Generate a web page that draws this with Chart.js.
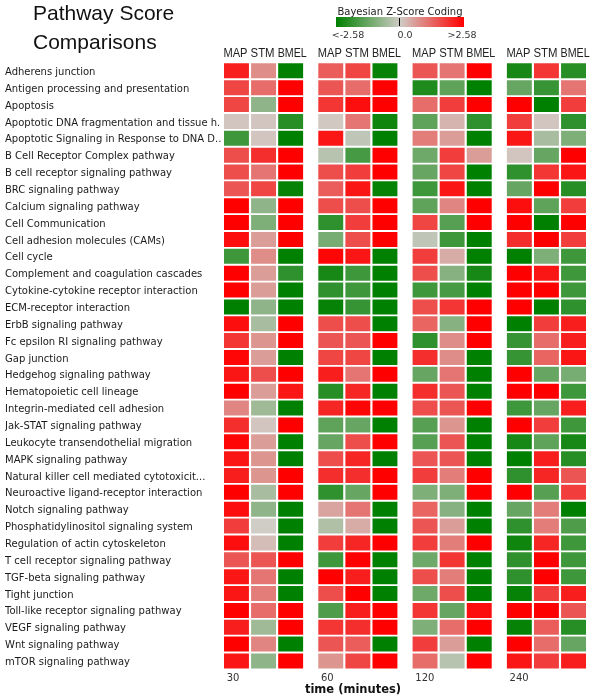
<!DOCTYPE html>
<html>
<head>
<meta charset="utf-8">
<script src="https://cdn.jsdelivr.net/npm/chart.js@4.4.1/dist/chart.umd.min.js"></script>
<style>
  html, body { margin: 0; padding: 0; background: #fff; }
  #wrap { width: 600px; height: 695px; }
</style>
</head>
<body>
<div id="wrap"><canvas id="heat" width="600" height="695"></canvas></div>
<script>
const pathways = [
  'Adherens junction',
  'Antigen processing and presentation',
  'Apoptosis',
  'Apoptotic DNA fragmentation and tissue h.',
  'Apoptotic Signaling in Response to DNA D..',
  'B Cell Receptor Complex pathway',
  'B cell receptor signaling pathway',
  'BRC signaling pathway',
  'Calcium signaling pathway',
  'Cell Communication',
  'Cell adhesion molecules (CAMs)',
  'Cell cycle',
  'Complement and coagulation cascades',
  'Cytokine-cytokine receptor interaction',
  'ECM-receptor interaction',
  'ErbB signaling pathway',
  'Fc epsilon RI signaling pathway',
  'Gap junction',
  'Hedgehog signaling pathway',
  'Hematopoietic cell lineage',
  'Integrin-mediated cell adhesion',
  'Jak-STAT signaling pathway',
  'Leukocyte transendothelial migration',
  'MAPK signaling pathway',
  'Natural killer cell mediated cytotoxicit...',
  'Neuroactive ligand-receptor interaction',
  'Notch signaling pathway',
  'Phosphatidylinositol signaling system',
  'Regulation of actin cytoskeleton',
  'T cell receptor signaling pathway',
  'TGF-beta signaling pathway',
  'Tight junction',
  'Toll-like receptor signaling pathway',
  'VEGF signaling pathway',
  'Wnt signaling pathway',
  'mTOR signaling pathway'
];
const methods = ['MAP', 'STM', 'BMEL'];
const times = ['30', '60', '120', '240'];

// Bayesian z-scores, one row per pathway: [MAP, STM, BMEL]
const z30 = [
  [2.2, 0.8, -2.6], [1.7, 1.2, 2.6], [1.7, -0.8, 2.6], [0.1, 0.1, -2.1],
  [-1.8, 0.1, -2.6], [1.6, 2.0, 2.6], [1.6, 1.1, 2.6], [1.5, 1.7, -2.5],
  [2.6, -0.8, 2.6], [2.6, -1.0, 2.6], [2.4, 0.6, 2.6], [-1.8, 0.8, -2.6],
  [2.6, 0.6, -2.0], [2.6, 0.6, -2.6], [-2.6, -0.8, -2.6], [2.4, -0.5, 2.6],
  [1.9, 0.7, 2.6], [2.5, 0.6, -2.6], [2.3, 1.6, 2.6], [2.6, 0.6, 2.3],
  [0.9, -0.6, -2.6], [2.0, 0.1, 2.6], [2.5, 0.6, -2.6], [2.3, 0.7, -2.6],
  [2.2, 0.7, 2.6], [2.6, -0.5, 2.6], [2.4, -0.8, -2.6], [1.8, 0.0, -2.6],
  [2.4, 0.2, -2.6], [1.5, 1.5, 2.6], [2.3, 1.1, -2.6], [2.3, 1.0, -2.6],
  [2.6, 1.2, 2.6], [2.2, -0.6, 2.6], [2.6, 0.9, -2.6], [2.3, -0.8, 2.6]
];
const z60 = [
  [1.4, 1.7, -2.5], [1.5, 1.2, 2.6], [1.9, 2.4, 2.6], [0.05, 1.1, -2.4],
  [2.3, -0.2, -2.6], [-0.3, -1.7, 2.6], [1.6, 1.8, 2.6], [1.4, 2.3, -2.5],
  [1.6, 1.6, 2.6], [-2.0, 1.8, 2.6], [-1.1, 1.6, 2.6], [2.5, 2.3, -2.6],
  [-2.3, -1.8, -2.6], [-2.0, -1.8, -2.6], [-2.5, -1.9, -2.6], [1.6, 1.6, -2.6],
  [1.5, 1.5, 2.6], [1.7, 1.7, -2.6], [2.2, 1.1, 2.6], [-2.1, 2.1, -2.6],
  [2.1, 2.5, 2.6], [-1.4, -1.3, -2.6], [-1.3, 1.6, 2.6], [1.6, 2.1, -2.6],
  [2.0, 2.0, 2.6], [-2.0, -1.3, 2.6], [0.5, 1.1, -2.6], [-0.4, 0.4, -2.6],
  [1.8, 2.1, 2.6], [-1.8, 2.6, -2.6], [2.6, 2.2, -2.6], [1.6, 2.6, -2.6],
  [-1.6, 2.2, 2.6], [1.9, 2.0, 2.6], [1.5, 1.4, -2.6], [0.7, 1.7, 2.6]
];
const z120 = [
  [1.5, 1.1, 2.6], [-2.2, -1.4, -2.6], [1.2, 1.8, 2.6], [-1.4, 0.3, -2.0],
  [1.0, 0.6, -2.6], [-1.2, 1.8, 0.6], [-1.3, 1.7, -2.6], [-1.8, 2.3, -2.6],
  [-1.4, 0.9, 2.6], [1.7, -1.5, 2.6], [-0.2, -1.8, -2.6], [1.8, 0.4, -2.6],
  [1.6, -0.9, -2.3], [-1.8, -1.7, -2.6], [1.6, 1.9, 2.6], [1.3, -0.9, 2.6],
  [-2.0, 0.8, 2.6], [2.0, 0.8, -2.6], [-1.3, 1.1, -2.6], [2.0, 1.5, -2.6],
  [1.6, 1.5, 2.6], [-1.5, 0.7, -2.6], [-1.5, 1.5, -2.6], [1.5, 1.5, -2.6],
  [1.8, 1.0, 2.6], [-1.0, -1.0, 2.6], [1.3, -0.9, -2.6], [1.5, 0.6, -2.6],
  [1.8, 1.0, 2.6], [-1.2, 1.9, -2.6], [1.6, 1.0, -2.6], [-1.2, 1.6, -2.6],
  [1.9, -1.3, 2.4], [-1.0, 1.2, 2.6], [1.8, 0.6, -2.6], [1.2, -0.3, 2.6]
];
const z240 = [
  [-2.3, 1.9, -2.1], [-1.3, -1.9, 1.1], [2.6, -2.6, 1.8], [1.8, 0.1, -2.0],
  [2.3, -0.5, -1.0], [0.1, -1.3, 2.6], [-2.0, 1.9, 2.3], [-1.3, 2.6, -2.1],
  [2.4, -1.4, 1.8], [2.6, -2.6, 2.6], [2.0, 2.6, 1.8], [-2.6, -1.0, -1.8],
  [2.6, 2.3, -1.8], [2.6, 2.6, -1.8], [2.6, -2.6, -2.0], [-2.6, 1.8, 2.2],
  [-1.9, 1.2, 2.2], [-1.9, 1.3, 2.3], [2.6, -1.3, -1.1], [2.6, 2.6, -1.8],
  [-1.8, -1.3, 2.2], [2.6, 1.8, -1.8], [-2.3, -1.4, -2.3], [-2.6, 2.2, -2.1],
  [-2.0, 2.1, 1.5], [2.6, -1.5, 1.8], [-1.3, 1.0, -2.6], [-2.0, 1.0, -1.6],
  [-2.4, 2.1, -1.8], [-2.0, 2.6, -1.8], [-2.0, 2.6, -1.8], [-2.5, 1.8, 2.2],
  [2.6, 2.6, 1.5], [-2.5, 1.4, -2.1], [2.6, 1.2, -1.3], [2.3, 1.8, 2.2]
];
const zByTime = [z30, z60, z120, z240];

const PANEL_STEP = 3.48;
const CELL_W = 0.92;
const X_MAX = 3 * PANEL_STEP + 2 + CELL_W;

const GREEN = [0, 128, 0], MID = [208, 204, 198], RED = [255, 0, 0];
function zColor(z) {
  let f = Math.max(-1, Math.min(1, z / 2.58));
  const end = f < 0 ? GREEN : RED;
  f = Math.abs(f);
  const c = MID.map((m, i) => Math.round(m + (end[i] - m) * f));
  return `rgb(${c[0]},${c[1]},${c[2]})`;
}

const datasets = [];
times.forEach((t, p) => {
  methods.forEach((m, c) => {
    const start = p * PANEL_STEP + c;
    datasets.push({
      label: t + ' ' + m,
      data: zByTime[p].map(() => [start, start + CELL_W]),
      backgroundColor: zByTime[p].map(row => zColor(row[c])),
      borderWidth: 0,
      grouped: false,
      barPercentage: 0.89,
      categoryPercentage: 1
    });
  });
});

const decor = {
  id: 'decor',
  afterDraw(chart) {
    const ctx = chart.ctx;
    const xs = chart.scales.x;
    ctx.save();
    ctx.textBaseline = 'alphabetic';

    // title
    ctx.fillStyle = '#111';
    ctx.textAlign = 'left';
    ctx.font = '21px "Liberation Sans", Arial, sans-serif';
    ctx.fillText('Pathway Score', 33, 20);
    ctx.fillText('Comparisons', 33, 49);

    // colour key
    ctx.font = '10px "DejaVu Sans", Verdana, sans-serif';
    ctx.textAlign = 'center';
    ctx.fillStyle = '#222';
    ctx.fillText('Bayesian Z-Score Coding', 400, 15);
    const grad = ctx.createLinearGradient(336, 0, 464, 0);
    for (let i = 0; i <= 10; i++) {
      grad.addColorStop(i / 10, zColor(-2.58 + i * 0.516));
    }
    ctx.fillStyle = grad;
    ctx.fillRect(336, 17, 128, 10);
    ctx.fillStyle = '#000';
    ctx.fillRect(399, 18, 1, 8);
    ctx.font = '9.5px "DejaVu Sans", Verdana, sans-serif';
    ctx.fillStyle = '#333';
    ctx.fillText('<-2.58', 348, 38);
    ctx.fillText('0.0', 405, 38);
    ctx.fillText('>2.58', 462, 38);

    // column headers
    ctx.textAlign = 'left';
    ctx.font = '12px "Liberation Sans", Arial, sans-serif';
    ctx.fillStyle = '#222';
    times.forEach((t, p) => {
      methods.forEach((m, c) => {
        const left = xs.getPixelForValue(p * PANEL_STEP + c);
        ctx.fillText(m, left - 0.5, 57, m.length > 3 ? 29 : 24);
      });
    });

    // x axis title
    ctx.textAlign = 'center';
    ctx.font = 'bold 11.5px "DejaVu Sans", Verdana, sans-serif';
    ctx.fillStyle = '#111';
    ctx.fillText('time (minutes)', 353, 693);
    ctx.restore();
  }
};

new Chart(document.getElementById('heat'), {
  type: 'bar',
  data: { labels: pathways, datasets },
  options: {
    indexAxis: 'y',
    responsive: false,
    animation: false,
    layout: { padding: { left: 5, top: 62.4, right: 14, bottom: 0 } },
    plugins: {
      legend: { display: false },
      tooltip: { enabled: false }
    },
    scales: {
      x: {
        type: 'linear',
        min: 0,
        max: X_MAX,
        grid: { display: false, drawTicks: false },
        border: { display: false },
        afterBuildTicks: s => {
          s.ticks = times.map((t, p) => ({ value: p * PANEL_STEP + 0.1 }));
        },
        afterFit: s => { s.height = 25.6; },
        ticks: {
          align: 'start',
          padding: 3,
          maxRotation: 0,
          autoSkip: false,
          color: '#333',
          font: { family: 'DejaVu Sans', size: 10 },
          callback: (v, i) => times[i]
        }
      },
      y: {
        grid: { display: false, drawTicks: false },
        border: { display: false },
        afterFit: s => { s.width = 219; },
        ticks: {
          crossAlign: 'far',
          autoSkip: false,
          padding: 0,
          labelOffset: 1.5,
          color: '#1a1a1a',
          font: { family: 'DejaVu Sans', size: 10 }
        }
      }
    }
  },
  plugins: [decor]
});
</script>
</body>
</html>
